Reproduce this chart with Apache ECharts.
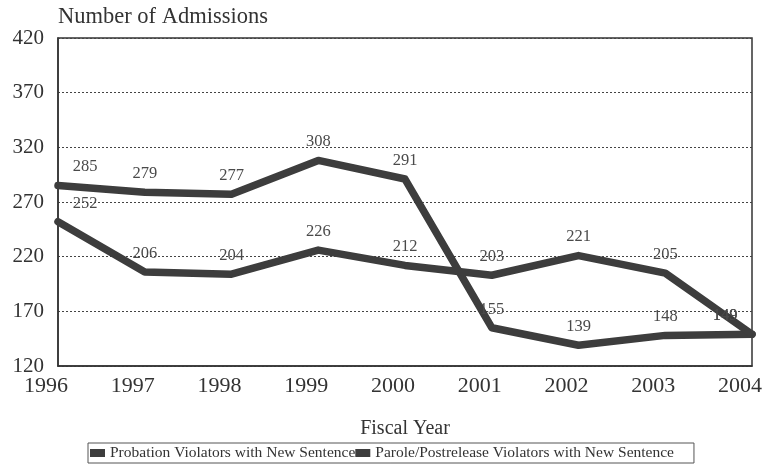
<!DOCTYPE html>
<html>
<head>
<meta charset="utf-8">
<script src="https://cdn.jsdelivr.net/npm/echarts@6/dist/echarts.min.js"></script>
<style>
  html, body { margin: 0; padding: 0; background: #fff; }
  #chart { width: 772px; height: 465px; }
</style>
</head>
<body>
<div id="chart"></div>
<script>
// Fiscal years on the x axis
const years = ['1996', '1997', '1998', '1999', '2000', '2001', '2002', '2003', '2004'];
// Admissions per year for each offender group
const probationViolators = [285, 279, 277, 308, 291, 155, 139, 148, 149];
const paroleViolators = [252, 206, 204, 226, 212, 203, 221, 205, 149];
const seriesNames = ['Probation Violators with New Sentence', 'Parole/Postrelease Violators with New Sentence'];
// Value axis ticks
const yTicks = [120, 170, 220, 270, 320, 370, 420];

const serif = '"Liberation Serif", "DejaVu Serif", serif';
const lineColor = '#3d3d3d';
const lastIndex = years.length - 1;

// Keep the labels at the two ends of the axis inside the plot frame
function edgeLabelShift(params) {
  if (params.dataIndex === 0) return { dx: 27 };
  if (params.dataIndex === lastIndex) return { dx: -27 };
  return {};
}

function makeSeries(name, values) {
  return {
    name: name,
    type: 'line',
    data: values,
    symbol: 'circle',
    symbolSize: 2,
    showSymbol: true,
    lineStyle: { color: lineColor, width: 7.5, join: 'round', cap: 'round' },
    itemStyle: { color: lineColor },
    label: {
      show: true,
      position: 'top',
      distance: 9,
      color: '#4a4a4a',
      fontFamily: serif,
      fontSize: 16.5
    },
    labelLayout: edgeLabelShift,
    z: 3
  };
}

const chart = echarts.init(document.getElementById('chart'), null, { renderer: 'canvas' });
chart.setOption({
  animation: false,
  backgroundColor: '#fff',
  grid: { left: 58, right: 20, top: 38, bottom: 99, show: true, borderColor: '#333', borderWidth: 1.5, containLabel: false },
  legend: {
    top: 443,
    left: 88,
    itemWidth: 15,
    itemHeight: 8,
    itemGap: 0,
    padding: [2, 20, 2, 2],
    borderColor: '#555',
    borderWidth: 1,
    icon: 'rect',
    textStyle: { fontFamily: serif, fontSize: 15.5, color: '#333' },
    data: seriesNames.map(n => ({ name: n, icon: 'rect', itemStyle: { color: lineColor, opacity: 1 } }))
  },
  xAxis: {
    type: 'category',
    data: years,
    boundaryGap: false,
    name: 'Fiscal Year',
    nameLocation: 'middle',
    nameGap: 53,
    nameTextStyle: { fontFamily: serif, fontSize: 20, color: '#333' },
    axisLine: { show: true, lineStyle: { color: '#333', width: 1.5 } },
    axisTick: { show: false },
    axisLabel: { fontFamily: serif, fontSize: 22, color: '#333', margin: 9, padding: [0, 24, 0, 0] },
    splitLine: { show: false }
  },
  yAxis: {
    type: 'value',
    min: yTicks[0],
    max: yTicks[yTicks.length - 1],
    interval: 50,
    name: 'Number of Admissions',
    nameLocation: 'end',
    nameGap: 9,
    nameTextStyle: { fontFamily: serif, fontSize: 22.5, color: '#333', align: 'left' },
    axisLine: { show: true, lineStyle: { color: '#333', width: 1.5 } },
    axisTick: { show: false },
    axisLabel: { fontFamily: serif, fontSize: 21, color: '#333', margin: 14 },
    splitLine: { show: true, lineStyle: { color: '#444', type: [2, 2], width: 1 } }
  },
  series: [
    makeSeries(seriesNames[0], probationViolators),
    makeSeries(seriesNames[1], paroleViolators)
  ]
});
</script>
</body>
</html>
